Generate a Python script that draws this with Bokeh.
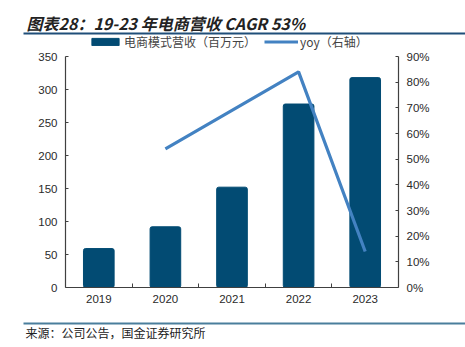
from bokeh.plotting import figure
from bokeh.models import (Range1d, LinearAxis, FixedTicker, NumeralTickFormatter,
                          Label, Legend, LegendItem, ColumnDataSource, BoxAnnotation)
from bokeh.embed import file_html
from bokeh.resources import INLINE

years = ["2019", "2020", "2021", "2022", "2023"]
revenue = [59, 92, 152, 278, 318]          # 电商模式营收（百万元）
yoy_years = ["2020", "2021", "2022", "2023"]
yoy = [0.54, 0.69, 0.84, 0.14]             # yoy（右轴）
left_ticks = [0, 50, 100, 150, 200, 250, 300, 350]
right_ticks = [0, 0.1, 0.2, 0.3, 0.4, 0.5, 0.6, 0.7, 0.8, 0.9]

title_text = "图表28：19-23 年电商营收 CAGR 53%"
bar_label = "电商模式营收（百万元）"
line_label = "yoy（右轴）"
source_text = "来源：公司公告，国金证券研究所"

BAR_C = "#024B73"
LINE_C = "#4382C2"
AX_C = "#404040"
LAT = "Liberation Sans"
CJK = "Noto Sans CJK SC"
NAN = float("nan")

W = 465
HEAD_H = 50
FOOT_H = 36
MAIN_H = 347 - HEAD_H - FOOT_H


def blank(h):
    f = figure(width=W, height=h, output_backend="svg", toolbar_location=None,
               x_range=Range1d(0, 1), y_range=Range1d(0, 1),
               min_border=0, x_axis_location=None, y_axis_location=None)
    f.outline_line_color = None
    f.xgrid.visible = False
    f.ygrid.visible = False
    return f


def hbox(fig, h, y_top, color):
    # horizontal separator; screen units from the bottom-left of the frame
    fig.add_layout(BoxAnnotation(left=23, right=W, top=h - y_top, bottom=h - y_top - 2,
                                 left_units="screen", right_units="screen",
                                 top_units="screen", bottom_units="screen",
                                 fill_color=color, fill_alpha=1, line_color=None))


# ---------------- header: title, rule, legend ----------------
head = blank(HEAD_H)
head.add_layout(Label(x=26, y=HEAD_H - 22, x_units="screen", y_units="screen",
                      text=title_text, text_font=CJK, text_font_size="16px",
                      text_font_style="bold italic", text_color="#222222",
                      text_baseline="middle"))
hbox(head, HEAD_H, 32, "#1F4E79")
# legend proxies (no visible data, styled like the real marks)
lb = head.vbar(x=[NAN], top=[NAN], width=0.5, color=BAR_C, border_radius=2)
ll = head.line(x=[NAN], y=[NAN], color=LINE_C, line_width=3.2)
legend = Legend(items=[LegendItem(label=bar_label, renderers=[lb]),
                       LegendItem(label=line_label, renderers=[ll])],
                orientation="horizontal", location=(88, 0),
                label_text_font=CJK, label_text_font_size="12px",
                label_text_color="#444444", glyph_width=34, glyph_height=9,
                label_standoff=2, spacing=8, padding=0, margin=0,
                label_height=11,
                border_line_color=None, background_fill_alpha=0)
head.add_layout(legend, "center")

# ---------------- main chart ----------------
idx = list(range(len(years)))
yoy_idx = [years.index(y) for y in yoy_years]

p = figure(width=W, height=MAIN_H, output_backend="svg", toolbar_location=None,
           x_range=Range1d(-0.5, len(years) - 0.5), y_range=Range1d(0, 350),
           min_border_left=65, min_border_right=67, min_border_top=56 - HEAD_H,
           min_border_bottom=HEAD_H + MAIN_H - 287,
           x_axis_location=None, y_axis_location=None)
p.extra_y_ranges = {"pct": Range1d(0, 0.9)}
p.outline_line_color = None
p.xgrid.visible = False
p.ygrid.visible = False

src = ColumnDataSource(dict(x=idx, top=revenue))
p.vbar(x="x", top="top", width=0.46, source=src, color=BAR_C, border_radius=2)
lsrc = ColumnDataSource(dict(x=yoy_idx, y=yoy))
p.line(x="x", y="y", source=lsrc, y_range_name="pct", color=LINE_C, line_width=3.2)

xa = LinearAxis(ticker=FixedTicker(ticks=idx, minor_ticks=[i + 0.5 for i in idx[:-1]]),
                major_label_overrides={i: y for i, y in zip(idx, years)})
ya = LinearAxis(ticker=FixedTicker(ticks=left_ticks))
ra = LinearAxis(y_range_name="pct", ticker=FixedTicker(ticks=right_ticks),
                formatter=NumeralTickFormatter(format="0%"))
for ax in (xa, ya, ra):
    ax.axis_line_color = AX_C
    ax.axis_line_width = 1.2
    ax.major_tick_line_color = AX_C
    ax.minor_tick_line_color = AX_C
    ax.major_label_text_font = LAT
    ax.major_label_text_font_size = "11.5px"
    ax.major_label_text_color = "#2A2A2A"
    ax.major_tick_out = 0
    ax.major_tick_in = 3
    ax.minor_tick_out = 0
    ax.minor_tick_in = 0
xa.major_tick_in = 0
xa.minor_tick_in = 4
xa.major_label_standoff = 7
ya.major_label_standoff = 8
ra.major_label_standoff = 8
p.add_layout(xa, "below")
p.add_layout(ya, "left")
p.add_layout(ra, "right")

# ---------------- footer: rule and source ----------------
foot = blank(FOOT_H)
y0 = HEAD_H + MAIN_H
hbox(foot, FOOT_H, 322 - y0, "#4A7E9C")
foot.add_layout(Label(x=25, y=FOOT_H - (332 - y0), x_units="screen", y_units="screen",
                      text=source_text, text_font=CJK, text_font_size="12px",
                      text_color="#222222", text_baseline="middle"))

open("out.html", "w").write(file_html([head, p, foot], INLINE))
